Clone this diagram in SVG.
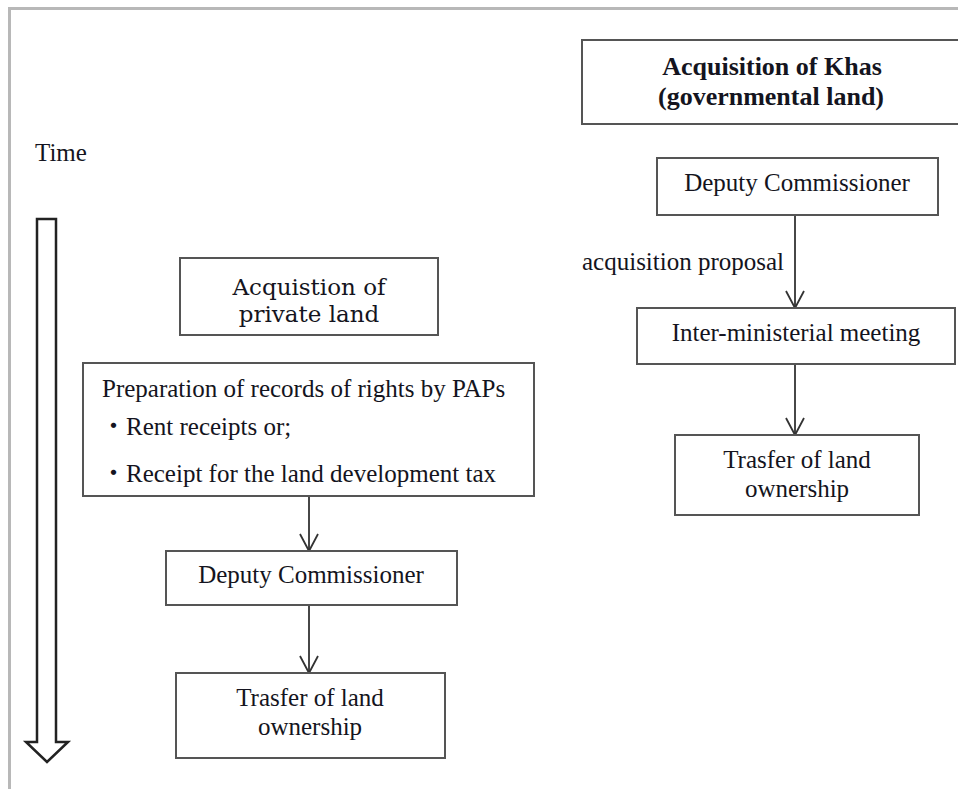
<svg xmlns="http://www.w3.org/2000/svg" width="958" height="789" viewBox="0 0 958 789">
  <style>
    .box { fill: #ffffff; stroke: #555555; stroke-width: 2; }
    .frame { fill: none; stroke: #b8b8b8; stroke-width: 3; }
    .conn { fill: none; stroke: #333333; stroke-width: 1.8; }
    .t { font-family: "Liberation Serif", "Noto Sans CJK JP", serif; font-size: 25px; fill: #141420; }
    .c { text-anchor: middle; }
    .b { font-weight: bold; font-size: 26px; }
    .century { font-family: "DejaVu Serif", "Liberation Serif", serif; font-size: 23px; }
  </style>
  <defs>
    <!-- open V head; the marker's x axis follows the line direction -->
    <marker id="vhead" viewBox="0 0 20 20" refX="18" refY="10" markerWidth="20" markerHeight="20" markerUnits="userSpaceOnUse" orient="auto">
      <path d="M1,1 L18,10 L1,19" fill="none" stroke="#333333" stroke-width="1.8"/>
    </marker>
  </defs>

  <rect width="958" height="789" fill="#ffffff"/>

  <!-- page frame -->
  <path class="frame" d="M9.5,789 L9.5,8.5 L958,8.5"/>

  <!-- time axis -->
  <g id="time">
    <text class="t" x="35" y="161">Time</text>
    <polygon points="37,219 56,219 56,742 68,742 47,762 26,742 37,742" fill="#ffffff" stroke="#222222" stroke-width="2.5" stroke-linejoin="miter"/>
  </g>

  <!-- connectors -->
  <g id="connectors">
    <line class="conn" x1="309" y1="496" x2="309" y2="551" marker-end="url(#vhead)"/>
    <line class="conn" x1="309" y1="605" x2="309" y2="673" marker-end="url(#vhead)"/>
    <line class="conn" x1="795" y1="215" x2="795" y2="308" marker-end="url(#vhead)"/>
    <line class="conn" x1="795" y1="364" x2="795" y2="435" marker-end="url(#vhead)"/>
    <text class="t" x="582" y="270">acquisition proposal</text>
  </g>

  <!-- governmental land column -->
  <g id="khas-title">
    <rect class="box" x="582" y="40" width="380" height="84"/>
    <text class="t c b" x="772" y="75">Acquisition of Khas</text>
    <text class="t c b" x="771" y="105">(governmental land)</text>
  </g>
  <g id="khas-dc">
    <rect class="box" x="657" y="158" width="281" height="57"/>
    <text class="t c" x="797" y="191">Deputy Commissioner</text>
  </g>
  <g id="khas-meeting">
    <rect class="box" x="637" y="308" width="318" height="56"/>
    <text class="t c" x="796" y="341">Inter-ministerial meeting</text>
  </g>
  <g id="khas-transfer">
    <rect class="box" x="675" y="435" width="244" height="80"/>
    <text class="t c" x="797" y="468">Trasfer of land</text>
    <text class="t c" x="797" y="497">ownership</text>
  </g>

  <!-- private land column -->
  <g id="private-title">
    <rect class="box" x="180" y="258" width="258" height="77"/>
    <text class="t c century" x="309" y="295">Acquistion of</text>
    <text class="t c century" x="309" y="322">private land</text>
  </g>
  <g id="private-records">
    <rect class="box" x="83" y="363" width="451" height="133"/>
    <text class="t" x="102" y="397">Preparation of records of rights by PAPs</text>
    <text class="t" x="101" y="435">・Rent receipts or;</text>
    <text class="t" x="101" y="482">・Receipt for the land development tax</text>
  </g>
  <g id="private-dc">
    <rect class="box" x="166" y="551" width="291" height="54"/>
    <text class="t c" x="311" y="583">Deputy Commissioner</text>
  </g>
  <g id="private-transfer">
    <rect class="box" x="176" y="673" width="269" height="85"/>
    <text class="t c" x="310" y="706">Trasfer of land</text>
    <text class="t c" x="310" y="735">ownership</text>
  </g>
</svg>
